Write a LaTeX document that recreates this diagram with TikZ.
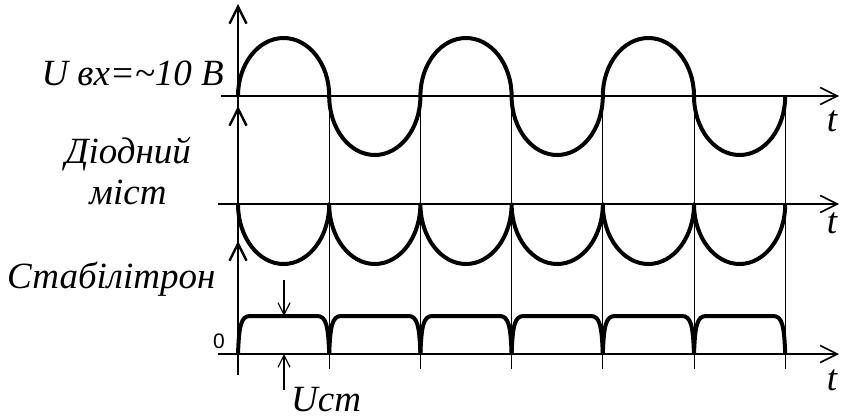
\documentclass[tikz,border=0pt]{standalone}
\usepackage{fontspec}
\setmainfont{Liberation Serif}
\newfontfamily\zerofont{Liberation Sans}
\usetikzlibrary{arrows.meta,positioning,calc}

\begin{document}
\begin{tikzpicture}[x=1pt,y=-1pt,
    axis/.style={line width=1.6pt,-{Straight Barb[length=17pt,width=17pt]}},
    vaxis/.style={line width=2.4pt,-{Straight Barb[length=17pt,width=17pt]}},
    gridline/.style={line width=1pt},
    wave/.style={line width=4pt,line join=round},
    dimarrow/.style={line width=1.2pt,-{Straight Barb[length=12pt,width=12pt]}},
    lbl/.style={font=\fontsize{37}{44}\selectfont\itshape,inner sep=0pt}]
  \useasboundingbox (0,0) rectangle (842,418);

  \coordinate (o1) at (238,96);
  \coordinate (o2) at (238,204);
  \coordinate (o3) at (238,354);
  \coordinate (y1) at (238,4);
  \coordinate (y2) at (238,106);
  \coordinate (y3) at (238,241);
  \coordinate (b3) at (238,375);
  \coordinate (s1) at (221,96);
  \coordinate (s2) at (218,204);
  \coordinate (s3) at (218,354);
  \coordinate (e1) at (839,96);
  \coordinate (e2) at (839,204);
  \coordinate (e3) at (839,354);

  \foreach \k in {1,...,6}
    \draw[gridline] ({238+91.2*\k},96) -- ({238+91.2*\k},369);

  \draw[axis] (s1) -- (e1);
  \draw[axis] (s2) -- (e2);
  \draw[axis] (s3) -- (e3);
  \draw[vaxis] (o2) -- (y1);
  \draw[vaxis] (o3) -- (y2);
  \draw[vaxis] (b3) -- (y3);

  \draw[wave] (o1) \foreach \k in {1,2,3} {
      arc[start angle=180,end angle=0,x radius=45.6pt,y radius=58pt]
      arc[start angle=180,end angle=360,x radius=45.6pt,y radius=59pt]};
  \draw[wave] (o2) \foreach \k in {1,...,6} {
      arc[start angle=180,end angle=360,x radius=45.6pt,y radius=60pt]};
  \foreach \k in {0,...,5}
    \draw[wave] ({238+91.2*\k},354) .. controls +(1,-28) and +(-9,0) .. ++(12,-38)
      -- ++(67.2,0) .. controls +(9,0) and +(-1,-28) .. ++(12,38);

  \coordinate (uu) at (284,280);
  \coordinate (ut) at (284,316);
  \coordinate (ld) at (284,390);
  \coordinate (lt) at (284,354);
  \draw[dimarrow] (uu) -- (ut);
  \draw[dimarrow] (ld) -- (lt);

  \node[lbl,anchor=base east] (uin) at (224,85) {U вх=\textasciitilde10 В};
  \node[lbl,anchor=base] (diod) at (128,163) {Діодний};
  \node[lbl,anchor=base] (mist) at (128,204) {міст};
  \node[lbl,anchor=base west] (stab) at (7,288) {Стабілітрон};
  \node[font=\zerofont\fontsize{21}{24}\selectfont,anchor=base,inner sep=0pt] (zero) at (219,348) {0};
  \node[lbl,anchor=base west] (ust) at (291,411) {Uст};
  \node[lbl,anchor=base] (t1) at (832,131) {t};
  \node[lbl,anchor=base] (t2) at (832,233) {t};
  \node[lbl,anchor=base] (t3) at (832,390) {t};
\end{tikzpicture}
\end{document}
